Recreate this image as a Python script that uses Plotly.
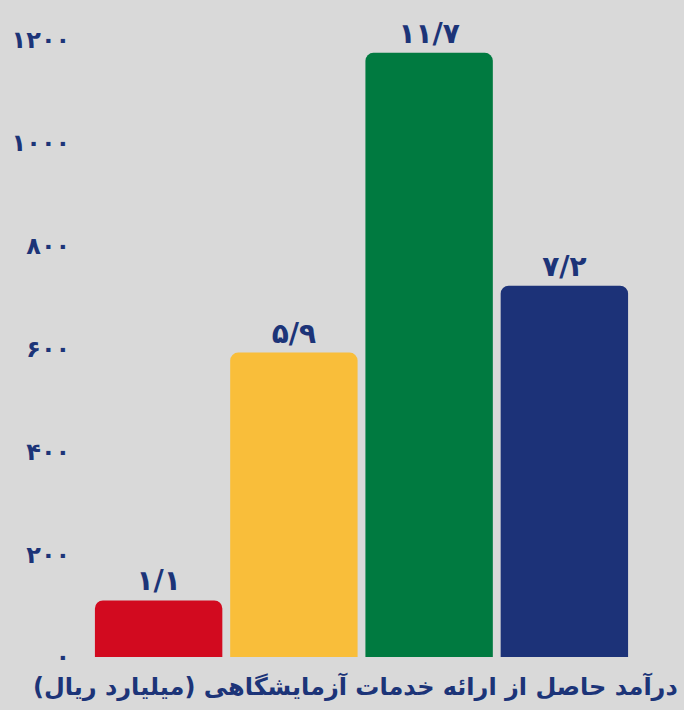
import plotly.graph_objects as go

categories = ["a", "b", "c", "d"]
values = [110, 592, 1175, 722]
bar_labels = ["۱/۱", "۵/۹", "۱۱/۷", "۷/۲"]
colors = ["#d20a1f", "#f9be3a", "#007a40", "#1c3278"]
tick_vals = [0, 200, 400, 600, 800, 1000, 1200]
tick_text = ["۰", "۲۰۰", "۴۰۰", "۶۰۰", "۸۰۰", "۱۰۰۰", "۱۲۰۰"]
title_text = "درآمد حاصل از ارائه خدمات آزمایشگاهی (میلیارد ریال)"

navy = "#1c3478"
bg = "#d9d9d9"
font_family = "DejaVu Sans"

fig = go.Figure(go.Bar(
    x=categories, y=values,
    marker=dict(color=colors, cornerradius=8, line=dict(width=0)),
    text=bar_labels, textposition="outside",
    textfont=dict(family=font_family, size=28, color=navy, weight="bold"),
    cliponaxis=False,
))

fig.update_layout(
    width=684, height=710,
    margin=dict(l=86, r=52, t=40, b=53),
    paper_bgcolor=bg, plot_bgcolor=bg,
    bargap=0.058,
    showlegend=False,
    xaxis=dict(showticklabels=False, showgrid=False, zeroline=False, showline=False),
    yaxis=dict(range=[0, 1200], tickvals=tick_vals, ticktext=tick_text,
               showgrid=False, zeroline=False, showline=False,
               ticks="outside", ticklen=15, tickcolor=bg,
               tickfont=dict(family=font_family, size=24, color=navy, weight="bold")),
    annotations=[dict(
        text=title_text, xref="paper", yref="paper",
        x=1.0 + 48/546, y=0, xanchor="right", yanchor="top", yshift=-13,
        showarrow=False,
        font=dict(family=font_family, size=24, color=navy, weight="bold"),
    )],
)

fig.write_html("out.html", config={"displayModeBar": False},
               post_script="document.body.style.margin='0';")
